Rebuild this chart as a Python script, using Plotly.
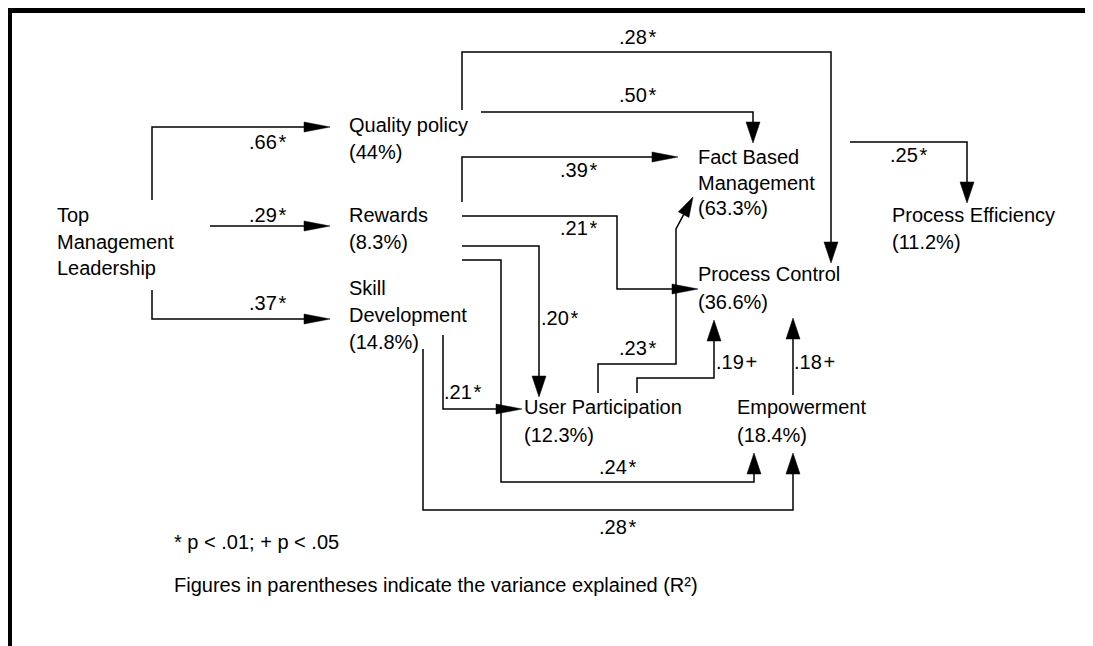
import plotly.graph_objects as go

# ---- data ----
node_names = ["Top Management Leadership", "Quality policy", "Rewards", "Skill Development",
              "Fact Based Management", "Process Control", "User Participation",
              "Empowerment", "Process Efficiency"]
node_r2 = [None, "44%", "8.3%", "14.8%", "63.3%", "36.6%", "12.3%", "18.4%", "11.2%"]

edge_source = ["Top Management Leadership", "Top Management Leadership", "Top Management Leadership",
               "Quality policy", "Quality policy", "Rewards", "Rewards", "Rewards", "Rewards",
               "Skill Development", "Skill Development", "User Participation", "User Participation",
               "Empowerment", "Fact Based Management"]
edge_target = ["Quality policy", "Rewards", "Skill Development",
               "Process Control", "Fact Based Management", "Fact Based Management", "Process Control",
               "User Participation", "Empowerment",
               "User Participation", "Empowerment", "Fact Based Management", "Process Control",
               "Process Control", "Process Efficiency"]
edge_coef = [".66", ".29", ".37", ".28", ".50", ".39", ".21", ".20", ".24", ".21", ".28", ".23", ".19", ".18", ".25"]
edge_sig = ["*", "*", "*", "*", "*", "*", "*", "*", "*", "*", "*", "*", "+", "+", "*"]

footnotes = ["* p < .01; + p < .05", "Figures in parentheses indicate the variance explained (R\u00b2)"]

# ---- layout (pixel positions of the diagram) ----
W, H = 1093, 646
OFF = 8  # browser body margin
FONT = "Arial, Liberation Sans, sans-serif"
FS = 20

node_lines = {
    "Top Management Leadership": ["Top", "Management", "Leadership"],
    "Quality policy": ["Quality policy"],
    "Rewards": ["Rewards"],
    "Skill Development": ["Skill", "Development"],
    "Fact Based Management": ["Fact Based", "Management"],
    "Process Control": ["Process Control"],
    "User Participation": ["User Participation"],
    "Empowerment": ["Empowerment"],
    "Process Efficiency": ["Process Efficiency"],
}
node_pos = {  # left x, first line centre y, line step
    "Top Management Leadership": (55, 215, 26.5),
    "Quality policy": (347, 125, 27),
    "Rewards": (347, 215, 27),
    "Skill Development": (347, 288, 27),
    "Fact Based Management": (696, 157, 25.5),
    "Process Control": (696, 274, 28),
    "User Participation": (522, 407, 28),
    "Empowerment": (735, 407, 28),
    "Process Efficiency": (890, 215, 27),
}
edge_route = [
    [(152, 200), (152, 127), (330, 127)],
    [(210, 226), (330, 226)],
    [(152, 290), (152, 319), (330, 319)],
    [(462, 110), (462, 52), (831, 52), (831, 263)],
    [(481, 112), (753, 112), (753, 143)],
    [(462, 202), (462, 157), (678, 157)],
    [(462, 216), (617, 216), (617, 289), (698, 289)],
    [(462, 246), (539, 246), (539, 397)],
    [(462, 260), (501, 260), (501, 482), (754, 482), (754, 453)],
    [(443, 335), (443, 409), (522, 409)],
    [(423, 349), (423, 510), (793, 510), (793, 453)],
    [(598, 393), (598, 364), (676, 364), (676, 229), (693, 197)],
    [(637, 393), (637, 378), (714, 378), (714, 320)],
    [(793, 395), (793, 318)],
    [(850, 142), (967, 142), (967, 203)],
]
edge_label_pos = [
    (267, 142), (267, 215), (267, 303), (637, 37), (637, 95), (578, 170), (578, 228),
    (559, 318), (617, 467), (462, 392), (617, 527), (637, 348), (736, 362), (814, 362), (908, 155),
]

fig = go.Figure()
shapes = []
annotations = []

# border
shapes.append(dict(type="rect", x0=6, x1=W + 20, y0=7, y1=13, fillcolor="black", line_width=0, layer="above"))
shapes.append(dict(type="rect", x0=6, x1=12, y0=7, y1=H + 20, fillcolor="black", line_width=0, layer="above"))

LW = 1.5
for route in edge_route:
    (xa, ya), (xb, yb) = route[-2], route[-1]
    dx, dy = xb - xa, yb - ya
    d = (dx * dx + dy * dy) ** 0.5
    ux, uy = dx / d, dy / d
    if abs(ux) > 0.9:
        L, hw = 26, 5
    elif abs(uy) > 0.9:
        L, hw = 21, 7
    else:
        L, hw = 20, 6
    bx, by = xb - ux * L, yb - uy * L
    px, py = -uy, ux
    pts = route[:-1] + [(bx, by)]
    path = "M " + " L ".join(f"{x},{y}" for x, y in pts)
    shapes.append(dict(type="path", path=path, line=dict(color="black", width=LW)))
    tri = f"M {xb},{yb} L {bx + px * hw},{by + py * hw} L {bx - px * hw},{by - py * hw} Z"
    shapes.append(dict(type="path", path=tri, fillcolor="black", line=dict(color="black", width=0.5)))

for coef, sig, (x, y) in zip(edge_coef, edge_sig, edge_label_pos):
    annotations.append(dict(x=x, y=y, text=coef + "\u200a" + sig, showarrow=False,
                            xanchor="center", yanchor="middle",
                            font=dict(family=FONT, size=FS, color="black")))

for name, r2 in zip(node_names, node_r2):
    lines = list(node_lines[name])
    if r2:
        lines.append(f"({r2})")
    x, y0, step = node_pos[name]
    for i, t in enumerate(lines):
        annotations.append(dict(x=x, y=y0 + i * step, text=t, showarrow=False,
                                xanchor="left", yanchor="middle",
                                font=dict(family=FONT, size=FS, color="black")))

for t, y in zip(footnotes, [542, 585]):
    annotations.append(dict(x=172, y=y, text=t, showarrow=False, xanchor="left", yanchor="middle",
                            font=dict(family=FONT, size=FS, color="black")))

fig.update_layout(
    width=W, height=H, margin=dict(l=0, r=0, t=0, b=0),
    paper_bgcolor="white", plot_bgcolor="white",
    xaxis=dict(range=[OFF, W + OFF], visible=False, fixedrange=True),
    yaxis=dict(range=[H + OFF, OFF], visible=False, fixedrange=True),
    shapes=shapes, annotations=annotations, showlegend=False,
)
fig.write_html("out.html", config={"displayModeBar": False})
